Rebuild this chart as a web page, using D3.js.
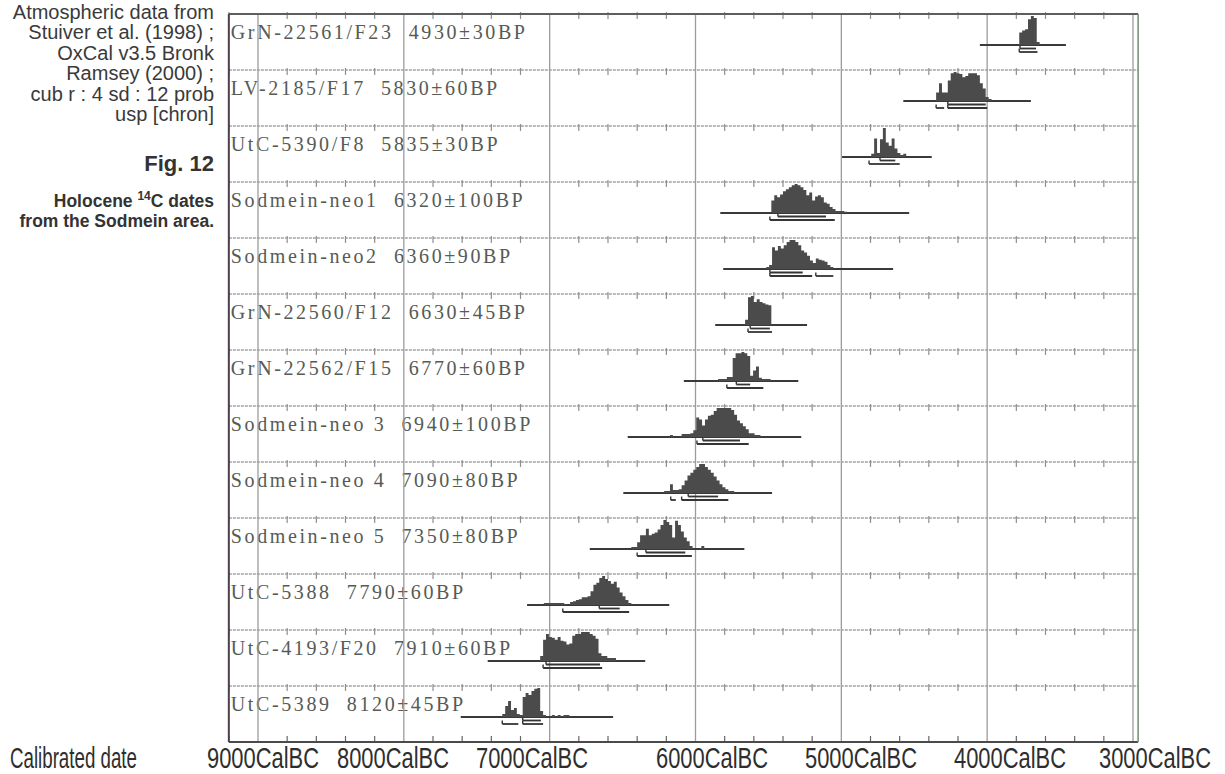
<!DOCTYPE html>
<html>
<head>
<meta charset="utf-8">
<script src="https://cdn.jsdelivr.net/npm/d3@7/dist/d3.min.js"></script>
<style>
  html, body { margin: 0; padding: 0; background: #fff; }
  svg { display: block; }
</style>
</head>
<body>
<svg id="chart" width="1225" height="774"></svg>
<script>
// ---------------- DATA ----------------
const sampleNames = ["GrN-22561/F23","LV-2185/F17","UtC-5390/F8","Sodmein-neo1","Sodmein-neo2",
  "GrN-22560/F12","GrN-22562/F15","Sodmein-neo 3","Sodmein-neo 4","Sodmein-neo 5",
  "UtC-5388","UtC-4193/F20","UtC-5389"];
const bpDates = ["4930±30BP","5830±60BP","5835±30BP","6320±100BP","6360±90BP","6630±45BP",
  "6770±60BP","6940±100BP","7090±80BP","7350±80BP","7790±60BP","7910±60BP","8120±45BP"];

// probability histograms, 20-year bins, starting at distStart (cal BC), relative height 0-100
const binYears = 20;
const distStart = [3780,4350,4795,5480,5515,5660,5845,6175,6215,6440,7040,7065,7325];
const probGrN22561 = [43,50,54,89,100,93,10];
const probLV2185 = [29,61,29,29,71,96,100,96,93,82,86,96,96,96,89,61,43,14,7];
const probUtC5390 = [11,64,14,61,100,50,39,64,29,14,7,11];
const probNeo1 = [43,61,54,64,75,82,89,96,100,96,89,79,61,71,43,57,61,54,36,32,21,14,7,7,7,4];
const probNeo2 = [7,14,75,64,79,71,82,93,100,100,93,82,64,57,46,29,21,36,32,29,25,14,7];
const probGrN22560 = [18,96,100,79,89,79,75,71,68];
const probGrN22562 = [7,7,7,14,14,79,96,96,100,96,86,18,36,50,11,7,7,7];
const probNeo3 = [7,0,0,0,10,10,10,13,23,67,60,40,60,73,77,90,100,100,100,100,100,93,77,57,47,37,27,13,13,7,7];
const probNeo4 = [7,7,30,10,10,13,27,43,60,70,80,90,100,100,90,80,70,57,43,30,20,13,7,7];
const probNeo5 = [7,7,23,47,47,70,47,53,57,67,83,100,93,83,40,97,83,60,40,27,10,0,0,0,10];
const probUtC5388 = [7,7,7,7,7,7,7,3,0,10,13,17,20,27,27,30,47,70,77,93,100,90,83,73,80,60,43,30,17,7];
const probUtC4193 = [17,73,93,83,80,73,83,70,67,57,60,87,93,93,100,100,100,93,87,77,27,17,17,10,10,10];
const probUtC5389 = [10,38,55,24,31,10,7,69,83,76,90,97,100,21,7,0,0,7,0,7,0,7,7];
const probs = [probGrN22561, probLV2185, probUtC5390, probNeo1, probNeo2, probGrN22560, probGrN22562,
  probNeo3, probNeo4, probNeo5, probUtC5388, probUtC4193, probUtC5389];

// plotted extent (baseline) in cal BC
const lineFrom = [4050,4575,4995,5830,5810,5865,6080,6465,6495,6725,7155,7425,7610];
const lineTo   = [3460,3700,4380,4535,4645,5235,5295,5275,5475,5665,6180,6345,6565];

// 68.2% and 95.4% ranges (cal BC)
const range68 = [[[3775,3665]],[[4270,4010]],[[4735,4630]],[[5435,5105]],[[5490,5265]],[[5625,5490]],
  [[5720,5625]],[[5950,5695]],[[6050,5845]],[[6340,6070]],[[6660,6520]],[[7025,6655]],[[7185,7060]]];
const range95 = [[[3780,3655]],[[4350,4295],[4270,4000]],[[4810,4600]],[[5490,5045]],[[5490,5200],[5175,5055]],
  [[5640,5475]],[[5785,5535]],[[5990,5635]],[[6170,6135],[6095,5775]],[[6400,6025]],[[6910,6455]],
  [[7045,6640]],[[7325,7215],[7185,7045]]];

const axisTicks = [9000,8000,7000,6000,5000,4000,3000];
const axisTickLabels = ["9000CalBC","8000CalBC","7000CalBC","6000CalBC","5000CalBC","4000CalBC","3000CalBC"];
const axisTitle = "Calibrated date";
const captionLines = ["Atmospheric data from","Stuiver et al. (1998) ;","OxCal v3.5 Bronk",
  "Ramsey (2000) ;","cub r : 4 sd : 12 prob","usp [chron]"];
const figTitle = "Fig. 12";

// ---------------- CHART ----------------
const svg = d3.select("#chart");
const plotTop = 14, plotBottom = 742;

const x = d3.scaleLinear().domain([9000, 3000]).range([258, 1133]);
const xLeft = x(9200), xRight = x(2965);
// printed tick labels sit slightly off the grid in the original figure
const labelX = d3.scaleLinear().domain(axisTicks).range([263, 393, 532, 712, 861, 1010, 1155]);

const y = d3.scaleBand().domain(sampleNames).range([plotTop, plotBottom]).padding(0);
const h = d3.scaleLinear().domain([0, 100]).range([0, 29]);
const baseOff = 31;

// row labels
const rows = svg.append("g");
sampleNames.forEach((n, i) => {
  rows.append("text")
    .attr("x", xLeft + 2)
    .attr("y", y(n) + 25)
    .attr("xml:space", "preserve")
    .style("white-space", "pre")
    .attr("font-family", "'Liberation Serif', 'DejaVu Serif', serif")
    .attr("font-size", 20)
    .attr("letter-spacing", 2.6)
    .attr("fill", "#565b56")
    .text(n + "  " + bpDates[i]);
});

// minor ticks (every 200 years)
const minor = d3.range(9200, 2999, -200).filter(v => v % 1000 !== 0);
const grid = svg.append("g");
sampleNames.forEach(n => {
  const yy = y(n);
  grid.append("line").attr("x1", xLeft).attr("x2", xRight).attr("y1", yy).attr("y2", yy)
    .attr("stroke", "#a3a3a3").attr("stroke-width", 1.6).attr("stroke-dasharray", "3,1");
  minor.forEach(v => {
    grid.append("line").attr("x1", x(v)).attr("x2", x(v)).attr("y1", yy - 2).attr("y2", yy + 5)
      .attr("stroke", "#8f8f8f").attr("stroke-width", 1.2);
  });
});
minor.forEach(v => {
  grid.append("line").attr("x1", x(v)).attr("x2", x(v)).attr("y1", plotBottom - 6).attr("y2", plotBottom)
    .attr("stroke", "#666").attr("stroke-width", 1.2);
});
// major gridlines
axisTicks.forEach(v => {
  grid.append("line").attr("x1", x(v)).attr("x2", x(v)).attr("y1", plotTop).attr("y2", plotBottom)
    .attr("stroke", "#9c9c9c").attr("stroke-width", 1.3);
});

// distributions
const area = d3.area().curve(d3.curveStepAfter)
  .x(d => x(d.year)).y0(d => d.base).y1(d => d.base - h(d.p));
const dists = svg.append("g");
sampleNames.forEach((n, i) => {
  const base = y(n) + baseOff;
  dists.append("line").attr("x1", x(lineFrom[i])).attr("x2", x(lineTo[i]))
    .attr("y1", base).attr("y2", base).attr("stroke", "#3a3a3a").attr("stroke-width", 2);
  const pts = probs[i].map((p, k) => ({ year: distStart[i] - k * binYears, p, base }));
  pts.push({ year: distStart[i] - probs[i].length * binYears, p: 0, base });
  dists.append("path").datum(pts).attr("d", area).attr("fill", "#4b4b4b");
  // 68% ranges just below baseline, 95% a little lower
  [[range68[i], 3.5, base], [range95[i], 7, base + 3.5]].forEach(([rs, off, top]) => {
    rs.forEach(r => {
      dists.append("line").attr("x1", x(r[0])).attr("x2", x(r[1]))
        .attr("y1", base + off).attr("y2", base + off)
        .attr("stroke", "#353535").attr("stroke-width", 1.8);
      dists.append("line").attr("x1", x(r[0])).attr("x2", x(r[0]))
        .attr("y1", top).attr("y2", base + off)
        .attr("stroke", "#353535").attr("stroke-width", 1.4);
    });
  });
});

// frame
const frame = svg.append("g").attr("fill", "none");
frame.append("line").attr("x1", xLeft).attr("x2", xRight).attr("y1", plotTop).attr("y2", plotTop)
  .attr("stroke", "#5e5e5e").attr("stroke-width", 2);
frame.append("line").attr("x1", xLeft).attr("x2", xRight).attr("y1", plotBottom).attr("y2", plotBottom)
  .attr("stroke", "#4a4a4a").attr("stroke-width", 2);
frame.append("line").attr("x1", xLeft).attr("x2", xLeft).attr("y1", plotTop).attr("y2", plotBottom)
  .attr("stroke", "#4a3f4a").attr("stroke-width", 2);
frame.append("line").attr("x1", xRight).attr("x2", xRight).attr("y1", plotTop).attr("y2", plotBottom)
  .attr("stroke", "#6f8f6f").attr("stroke-width", 1.5);

// bottom axis labels (condensed by horizontal scaling to the printed width)
const axisFont = "'Liberation Sans Narrow', 'Liberation Sans', Arial, sans-serif";
const axisG = svg.append("g").attr("font-family", axisFont).attr("fill", "#2e2e2e");
function condensedLabel(txt, cx, width, anchor) {
  const g = axisG.append("g");
  const t = g.append("text").attr("x", 0).attr("y", 0).attr("font-size", 29)
    .attr("text-anchor", anchor).text(txt);
  const w = t.node().getComputedTextLength();
  g.attr("transform", `translate(${cx},768) scale(${width / w},1)`);
}
axisTicks.forEach((v, i) => condensedLabel(axisTickLabels[i], labelX(v), 112, "middle"));
condensedLabel(axisTitle, 10, 127, "start");

// caption
const capX = 214;
const cap = svg.append("g").attr("font-family", "'Liberation Sans', Arial, sans-serif")
  .attr("fill", "#3a3a3a").attr("text-anchor", "end");
captionLines.forEach((t, i) => {
  cap.append("text").attr("x", capX).attr("y", 19 + i * 20.4).attr("font-size", 20).text(t);
});
cap.append("text").attr("x", capX).attr("y", 171).attr("font-size", 22).attr("font-weight", "bold")
  .attr("fill", "#333").text(figTitle);
const t1 = cap.append("text").attr("x", capX).attr("y", 207).attr("font-size", 17.5)
  .attr("font-weight", "bold").attr("fill", "#333");
t1.append("tspan").text("Holocene ");
t1.append("tspan").attr("font-size", 12).attr("dy", -7).text("14");
t1.append("tspan").attr("dy", 7).text("C dates");
cap.append("text").attr("x", capX).attr("y", 227).attr("font-size", 17.5).attr("font-weight", "bold")
  .attr("fill", "#333").text("from the Sodmein area.");
</script>
</body>
</html>
